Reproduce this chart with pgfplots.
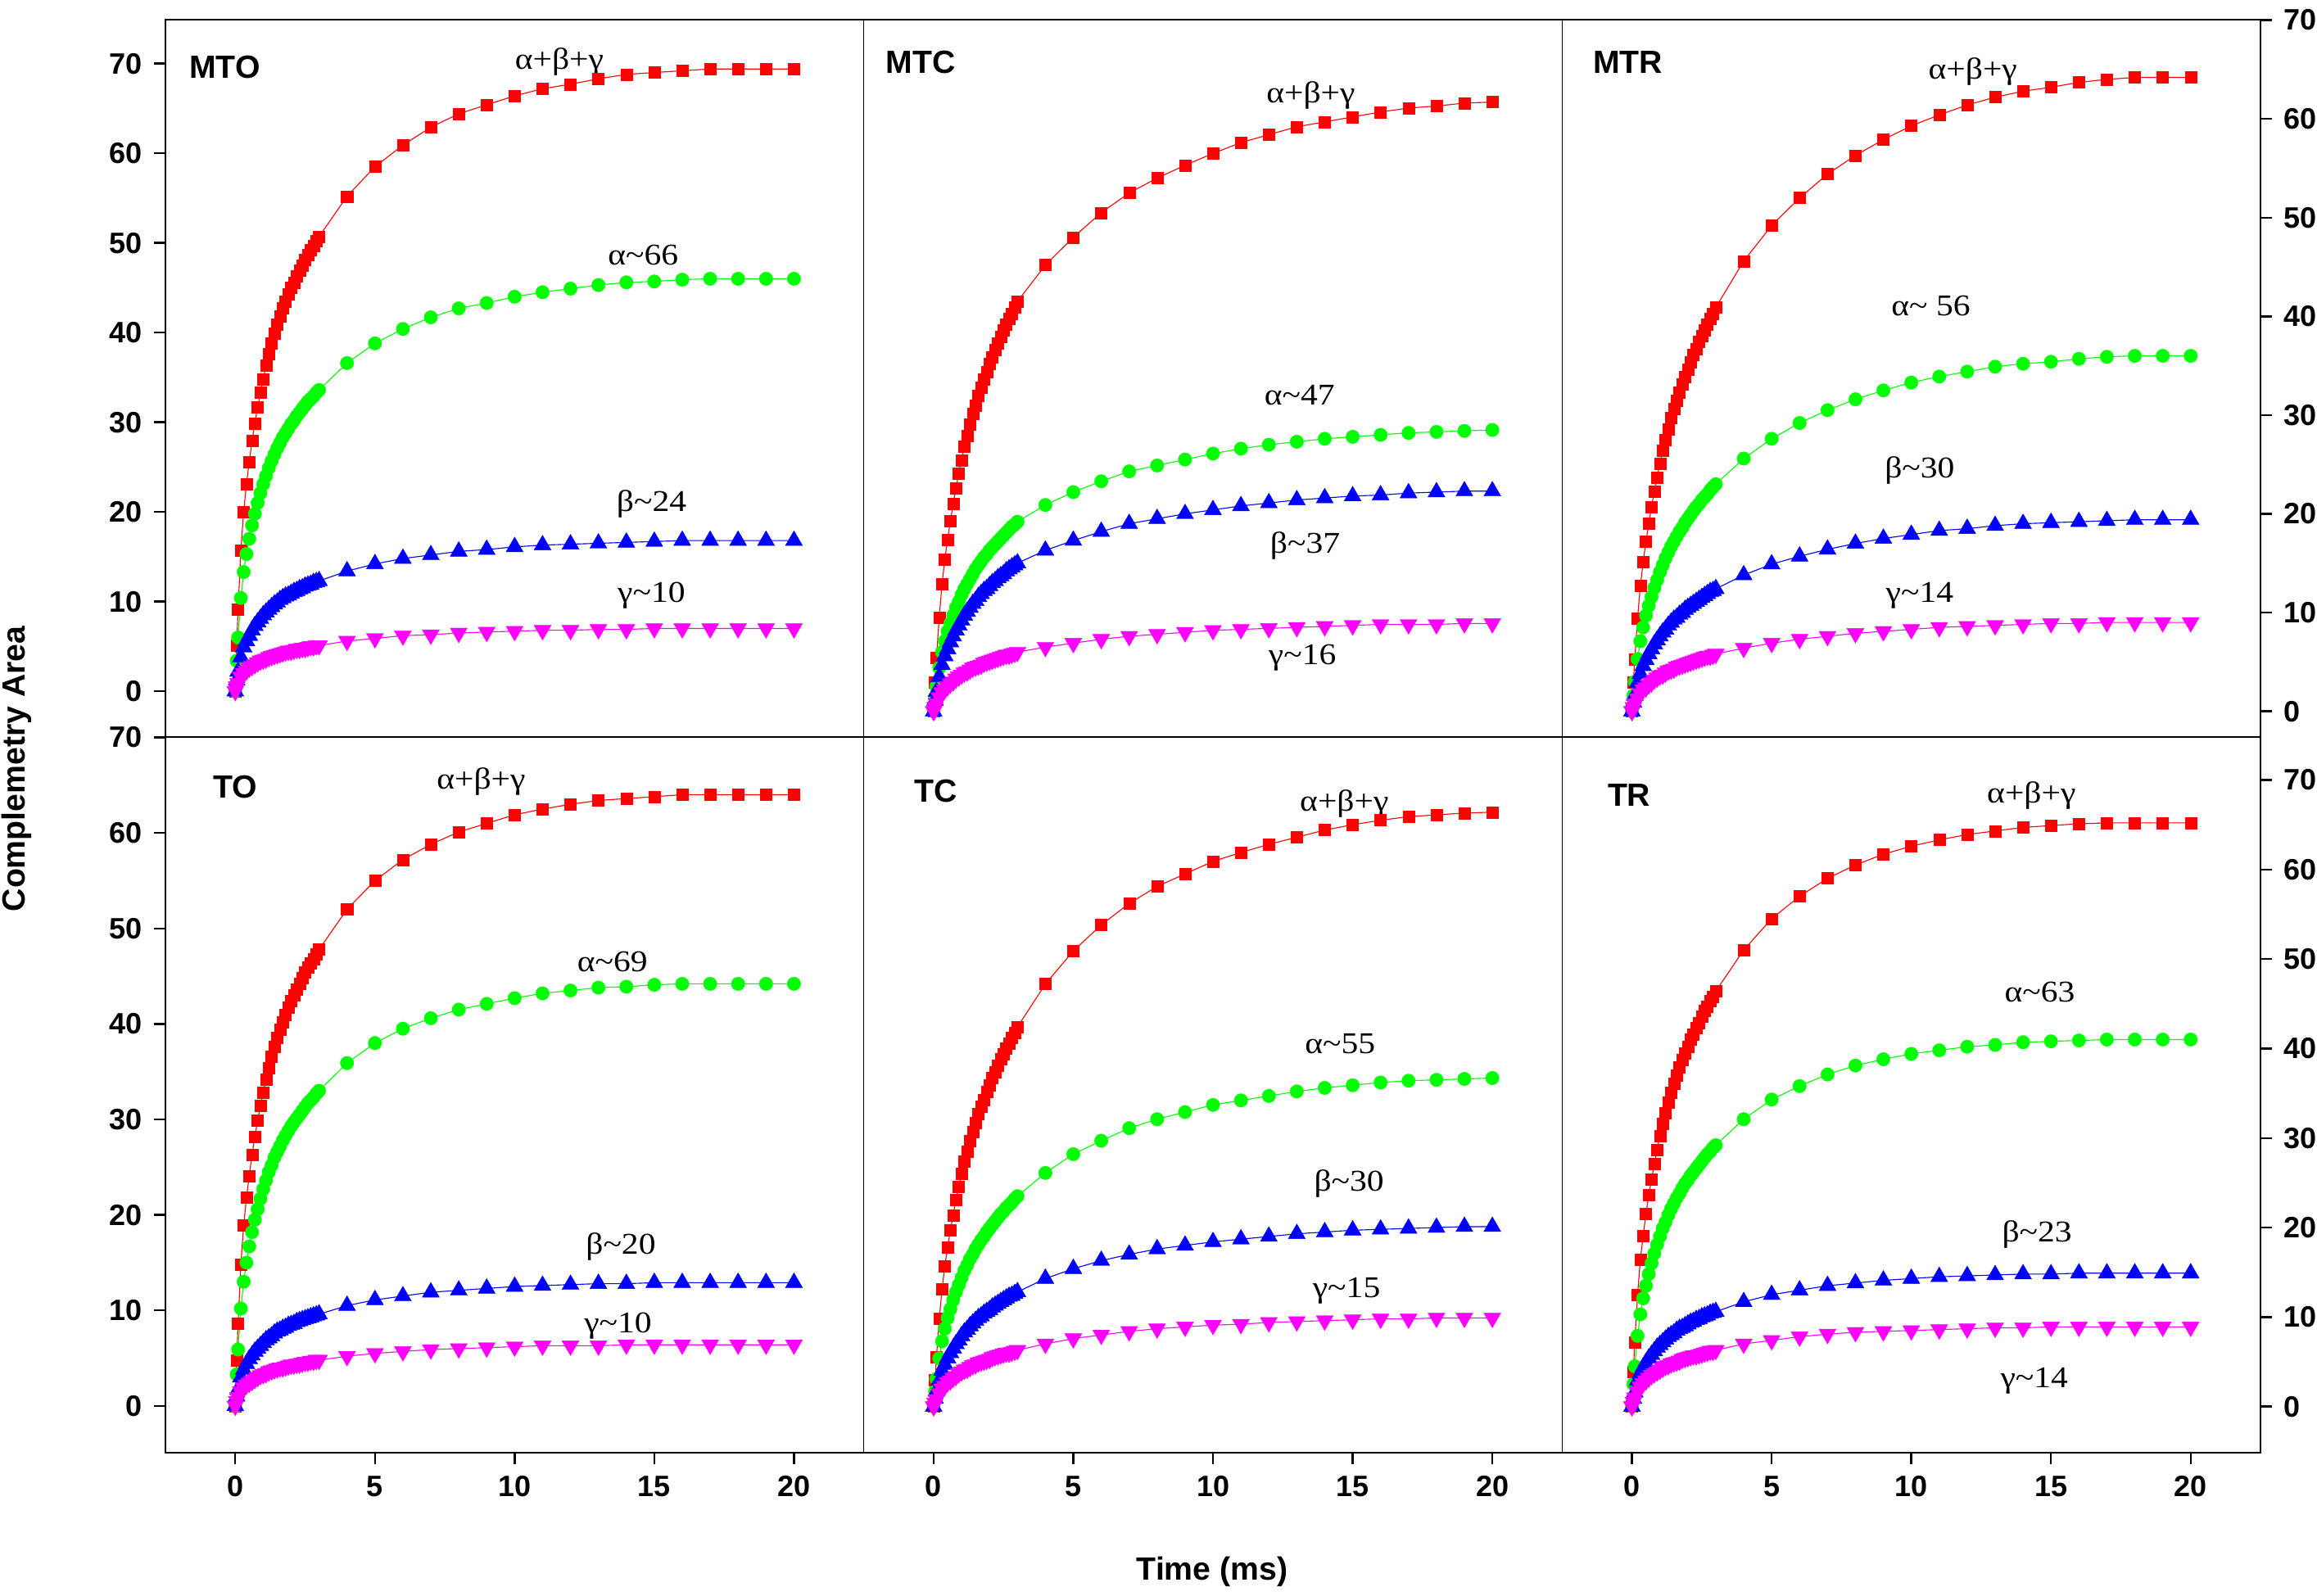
\documentclass[border=0pt]{standalone}
\usepackage{fontspec}
\setmainfont{Liberation Sans}
\newfontfamily\annfont{Liberation Serif}
\usepackage{pgfplots}
\usepackage{pgfplotstable}
\pgfplotsset{compat=1.18}
\definecolor{cR}{RGB}{255,0,0}
\definecolor{cG}{RGB}{0,255,0}
\definecolor{cB}{RGB}{0,0,255}
\definecolor{cM}{RGB}{255,0,255}

\pgfplotstableread{
t r g b m
0 0 0 0 0
0.05 5.1 3.4 1.2 0.5
0.1 9.1 6.0 2.2 0.9
0.2 15.7 10.4 3.8 1.6
0.3 20.0 13.3 4.9 2.0
0.4 23.1 15.3 5.6 2.3
0.5 25.6 17.0 6.2 2.6
0.6 27.9 18.5 6.8 2.8
0.7 29.9 19.8 7.3 3.0
0.8 31.7 21.0 7.7 3.2
0.9 33.3 22.1 8.1 3.4
1.0 34.8 23.1 8.5 3.5
1.1 36.3 24.0 8.8 3.6
1.2 37.6 24.9 9.1 3.8
1.3 38.8 25.7 9.4 3.9
1.4 39.9 26.4 9.7 4.0
1.5 40.9 27.1 9.9 4.1
1.6 41.8 27.7 10.2 4.2
1.7 42.7 28.3 10.4 4.3
1.8 43.5 28.8 10.6 4.4
1.9 44.3 29.3 10.7 4.5
2.0 45.0 29.8 10.9 4.5
2.1 45.6 30.2 11.1 4.6
2.2 46.3 30.7 11.2 4.7
2.3 46.9 31.1 11.4 4.7
2.4 47.5 31.5 11.5 4.8
2.5 48.1 31.9 11.7 4.8
2.6 48.7 32.3 11.8 4.9
2.7 49.2 32.6 11.9 5.0
2.8 49.7 32.9 12.1 5.0
2.9 50.2 33.3 12.2 5.1
3.0 50.7 33.6 12.3 5.1
4 55.2 36.6 13.4 5.6
5 58.5 38.8 14.2 5.9
6 60.9 40.4 14.8 6.2
7 62.9 41.7 15.2 6.3
8 64.4 42.7 15.6 6.5
9 65.4 43.3 15.8 6.6
10 66.4 44.0 16.1 6.7
11 67.2 44.5 16.3 6.8
12 67.7 44.9 16.4 6.8
13 68.3 45.3 16.5 6.9
14 68.8 45.6 16.6 6.9
15 69.0 45.7 16.7 7.0
16 69.2 45.9 16.8 7.0
17 69.4 46.0 16.8 7.0
18 69.4 46.0 16.8 7.0
19 69.4 46.0 16.8 7.0
20 69.4 46.0 16.8 7.0
}\MTO

\pgfplotstableread{
t r g b m
0 0 0 0 0
0.05 2.9 1.3 1.1 0.4
0.1 5.4 2.5 2.0 0.8
0.2 9.5 4.4 3.5 1.4
0.3 12.9 6.0 4.7 1.9
0.4 15.4 7.1 5.6 2.2
0.5 17.4 8.1 6.3 2.5
0.6 19.3 8.9 7.0 2.8
0.7 21.0 9.7 7.6 3.0
0.8 22.6 10.5 8.2 3.3
0.9 24.1 11.1 8.7 3.5
1.0 25.4 11.8 9.2 3.7
1.1 26.8 12.4 9.7 3.9
1.2 27.9 12.9 10.1 4.0
1.3 29.1 13.4 10.5 4.2
1.4 30.1 13.9 10.9 4.4
1.5 31.0 14.4 11.2 4.5
1.6 32.0 14.8 11.6 4.6
1.7 32.8 15.2 11.9 4.7
1.8 33.6 15.6 12.2 4.9
1.9 34.4 15.9 12.4 5.0
2.0 35.2 16.3 12.7 5.1
2.1 35.9 16.6 13.0 5.2
2.2 36.6 16.9 13.2 5.3
2.3 37.3 17.2 13.5 5.4
2.4 37.9 17.5 13.7 5.5
2.5 38.6 17.8 13.9 5.6
2.6 39.2 18.1 14.2 5.7
2.7 39.8 18.4 14.4 5.7
2.8 40.3 18.7 14.6 5.8
2.9 40.9 18.9 14.8 5.9
3.0 41.5 19.2 15.0 6.0
4 45.2 20.9 16.3 6.5
5 48.0 22.2 17.3 6.9
6 50.5 23.3 18.2 7.3
7 52.5 24.3 19.0 7.6
8 54.0 24.9 19.5 7.8
9 55.3 25.5 20.0 8.0
10 56.5 26.1 20.4 8.2
11 57.6 26.6 20.8 8.3
12 58.4 27.0 21.1 8.4
13 59.2 27.3 21.4 8.5
14 59.7 27.6 21.6 8.6
15 60.2 27.8 21.8 8.7
16 60.7 28.0 21.9 8.8
17 61.1 28.2 22.1 8.8
18 61.3 28.3 22.2 8.8
19 61.6 28.4 22.3 8.9
20 61.7 28.5 22.3 8.9
}\MTC

\pgfplotstableread{
t r g b m
0 0 0 0 0
0.05 2.9 1.6 0.9 0.4
0.1 5.3 3.0 1.6 0.8
0.2 9.4 5.3 2.9 1.3
0.3 12.7 7.1 3.8 1.8
0.4 15.1 8.5 4.6 2.2
0.5 17.2 9.7 5.2 2.4
0.6 19.0 10.7 5.8 2.7
0.7 20.7 11.6 6.3 2.9
0.8 22.3 12.5 6.8 3.2
0.9 23.7 13.3 7.2 3.4
1.0 25.1 14.1 7.6 3.6
1.1 26.4 14.8 8.0 3.7
1.2 27.5 15.5 8.3 3.9
1.3 28.6 16.1 8.7 4.1
1.4 29.7 16.7 9.0 4.2
1.5 30.6 17.2 9.3 4.3
1.6 31.5 17.7 9.5 4.5
1.7 32.3 18.2 9.8 4.6
1.8 33.1 18.6 10.0 4.7
1.9 33.9 19.1 10.3 4.8
2.0 34.6 19.5 10.5 4.9
2.1 35.4 19.9 10.7 5.0
2.2 36.1 20.3 10.9 5.1
2.3 36.7 20.7 11.1 5.2
2.4 37.4 21.0 11.3 5.3
2.5 38.0 21.4 11.5 5.4
2.6 38.6 21.7 11.7 5.5
2.7 39.2 22.0 11.9 5.6
2.8 39.8 22.4 12.1 5.6
2.9 40.3 22.7 12.2 5.7
3.0 40.9 23.0 12.4 5.8
4 45.6 25.6 13.8 6.4
5 49.2 27.6 14.9 6.9
6 52.0 29.2 15.7 7.3
7 54.4 30.5 16.4 7.6
8 56.3 31.6 17.0 7.9
9 57.9 32.5 17.5 8.1
10 59.3 33.3 17.9 8.3
11 60.4 33.9 18.3 8.5
12 61.4 34.4 18.5 8.6
13 62.2 34.9 18.8 8.7
14 62.8 35.2 19.0 8.8
15 63.2 35.4 19.1 8.9
16 63.7 35.7 19.2 8.9
17 64.0 35.9 19.3 9.0
18 64.2 36.0 19.4 9.0
19 64.2 36.0 19.4 9.0
20 64.2 36.0 19.4 9.0
}\MTR

\pgfplotstableread{
t r g b m
0 0 0 0 0
0.05 4.8 3.3 1.0 0.5
0.1 8.6 5.9 1.7 0.9
0.2 14.8 10.2 3.0 1.5
0.3 18.9 13.0 3.8 1.9
0.4 21.8 15.0 4.4 2.2
0.5 24.1 16.7 4.9 2.4
0.6 26.3 18.2 5.3 2.6
0.7 28.2 19.5 5.7 2.8
0.8 29.9 20.6 6.0 3.0
0.9 31.4 21.7 6.3 3.2
1.0 32.8 22.7 6.6 3.3
1.1 34.2 23.6 6.9 3.4
1.2 35.4 24.5 7.1 3.6
1.3 36.6 25.2 7.3 3.7
1.4 37.6 26.0 7.6 3.8
1.5 38.6 26.6 7.8 3.9
1.6 39.4 27.2 7.9 4.0
1.7 40.2 27.8 8.1 4.0
1.8 41.0 28.3 8.2 4.1
1.9 41.7 28.8 8.4 4.2
2.0 42.4 29.3 8.5 4.3
2.1 43.0 29.7 8.6 4.3
2.2 43.6 30.1 8.8 4.4
2.3 44.2 30.5 8.9 4.4
2.4 44.8 30.9 9.0 4.5
2.5 45.4 31.3 9.1 4.6
2.6 45.9 31.7 9.2 4.6
2.7 46.4 32.0 9.3 4.7
2.8 46.8 32.3 9.4 4.7
2.9 47.3 32.7 9.5 4.8
3.0 47.8 33.0 9.6 4.8
4 52.0 35.9 10.5 5.2
5 55.0 38.0 11.1 5.5
6 57.2 39.5 11.5 5.7
7 58.8 40.6 11.9 5.9
8 60.1 41.5 12.1 6.0
9 61.0 42.1 12.3 6.1
10 61.9 42.7 12.5 6.2
11 62.5 43.2 12.6 6.3
12 63.0 43.5 12.7 6.3
13 63.4 43.8 12.8 6.3
14 63.6 43.9 12.8 6.4
15 63.8 44.1 12.9 6.4
16 64.0 44.2 12.9 6.4
17 64.0 44.2 12.9 6.4
18 64.0 44.2 12.9 6.4
19 64.0 44.2 12.9 6.4
20 64.0 44.2 12.9 6.4
}\TO

\pgfplotstableread{
t r g b m
0 0 0 0 0
0.05 3.0 1.7 0.9 0.4
0.1 5.5 3.1 1.7 0.8
0.2 9.8 5.4 2.9 1.5
0.3 13.1 7.3 4.0 2.0
0.4 15.7 8.7 4.7 2.3
0.5 17.8 9.9 5.4 2.7
0.6 19.7 10.9 6.0 2.9
0.7 21.4 11.9 6.5 3.2
0.8 23.1 12.8 7.0 3.4
0.9 24.6 13.6 7.4 3.7
1.0 26.0 14.4 7.9 3.9
1.1 27.4 15.2 8.3 4.1
1.2 28.5 15.8 8.6 4.2
1.3 29.7 16.5 9.0 4.4
1.4 30.7 17.0 9.3 4.6
1.5 31.7 17.6 9.6 4.7
1.6 32.7 18.1 9.9 4.9
1.7 33.5 18.6 10.1 5.0
1.8 34.3 19.0 10.4 5.1
1.9 35.2 19.5 10.6 5.2
2.0 35.9 19.9 10.8 5.3
2.1 36.7 20.3 11.1 5.5
2.2 37.4 20.7 11.3 5.6
2.3 38.1 21.1 11.5 5.7
2.4 38.8 21.5 11.7 5.8
2.5 39.4 21.8 11.9 5.9
2.6 40.0 22.2 12.1 6.0
2.7 40.6 22.5 12.3 6.0
2.8 41.2 22.8 12.4 6.1
2.9 41.8 23.2 12.6 6.2
3.0 42.4 23.5 12.8 6.3
4 47.2 26.1 14.3 7.0
5 50.9 28.2 15.4 7.6
6 53.8 29.7 16.3 8.0
7 56.2 31.1 17.0 8.4
8 58.1 32.1 17.6 8.7
9 59.5 32.9 18.0 8.9
10 60.9 33.7 18.4 9.1
11 61.9 34.2 18.7 9.2
12 62.8 34.7 19.0 9.4
13 63.6 35.2 19.3 9.5
14 64.4 35.6 19.5 9.6
15 65.0 35.9 19.7 9.7
16 65.5 36.2 19.8 9.8
17 65.9 36.4 19.9 9.8
18 66.1 36.5 20.0 9.9
19 66.3 36.6 20.1 9.9
20 66.4 36.7 20.1 9.9
}\TC

\pgfplotstableread{
t r g b m
0 0 0 0 0
0.05 3.9 2.5 0.9 0.5
0.1 7.2 4.5 1.6 1.0
0.2 12.5 7.9 2.9 1.7
0.3 16.4 10.3 3.7 2.2
0.4 19.1 12.1 4.4 2.6
0.5 21.5 13.5 4.9 2.9
0.6 23.6 14.8 5.4 3.2
0.7 25.4 16.0 5.8 3.5
0.8 27.1 17.1 6.2 3.7
0.9 28.7 18.1 6.6 3.9
1.0 30.2 19.0 6.9 4.1
1.1 31.6 19.9 7.2 4.3
1.2 32.8 20.6 7.5 4.5
1.3 34.0 21.4 7.8 4.6
1.4 35.1 22.1 8.0 4.8
1.5 36.1 22.7 8.2 4.9
1.6 37.0 23.3 8.5 5.0
1.7 37.9 23.8 8.7 5.1
1.8 38.7 24.4 8.8 5.3
1.9 39.5 24.9 9.0 5.4
2.0 40.2 25.3 9.2 5.5
2.1 41.0 25.8 9.4 5.6
2.2 41.6 26.2 9.5 5.7
2.3 42.3 26.6 9.7 5.7
2.4 42.9 27.0 9.8 5.8
2.5 43.6 27.4 10.0 5.9
2.6 44.2 27.8 10.1 6.0
2.7 44.7 28.2 10.2 6.1
2.8 45.3 28.5 10.4 6.2
2.9 45.8 28.9 10.5 6.2
3.0 46.4 29.2 10.6 6.3
4 51.0 32.1 11.7 7.0
5 54.5 34.3 12.5 7.4
6 57.0 35.8 13.0 7.8
7 59.0 37.1 13.5 8.1
8 60.5 38.1 13.8 8.3
9 61.7 38.8 14.1 8.4
10 62.6 39.4 14.3 8.5
11 63.3 39.8 14.5 8.6
12 63.9 40.2 14.6 8.7
13 64.3 40.4 14.7 8.8
14 64.7 40.7 14.8 8.8
15 64.9 40.8 14.8 8.9
16 65.1 40.9 14.9 8.9
17 65.2 41.0 14.9 8.9
18 65.2 41.0 14.9 8.9
19 65.2 41.0 14.9 8.9
20 65.2 41.0 14.9 8.9
}\TR

\pgfplotsset{
  panel/.style={scale only axis, width=213.17pt, xmin=-2.5, xmax=22.5,
    axis line style={line width=0.3pt}, tick align=outside,
    major tick length=3.6pt, tick style={black, line width=0.6pt},
    /pgf/number format/assume math mode=true,
    ticklabel style={font=\bfseries\fontsize{9}{10}\selectfont},
    clip=false},
  toprow/.style={height=219pt, xtick=\empty},
  botrow/.style={height=218.5pt, xtick={0,5,10,15,20}, xtick pos=left},
  c1/.style={ytick={0,10,...,70}, ytick pos=left},
  c2/.style={ytick=\empty},
  c3/.style={ytick={0,10,...,70}, ytick pos=right, yticklabel pos=right},
  sR/.style={color=cR, line width=0.28pt, mark=square*, mark size=1.75pt, mark options={fill=cR, draw=cR, line width=0.1pt}},
  sG/.style={color=cG, line width=0.28pt, mark=*, mark size=2.05pt, mark options={fill=cG, draw=cG, line width=0.1pt}},
  sB/.style={color=cB, line width=0.28pt, mark=triangle*, mark size=3.0pt, mark options={fill=cB, draw=cB, line width=0.1pt}},
  sM/.style={color=cM, line width=0.28pt, mark=triangle*, mark size=3.0pt, mark options={fill=cM, draw=cM, line width=0.1pt, rotate=180}},
}
\tikzset{
  ann/.style={font=\annfont\fontsize{9.2}{11}\selectfont, inner sep=0pt},
  plab/.style={font=\bfseries\fontsize{9.8}{11}\selectfont, anchor=west, inner sep=0pt},
}
\newcommand{\wide}[1]{\scalebox{1.13}[1]{#1}}

\newcommand{\fourplots}[1]{%
  \addplot[sR] table[x=t,y=r]{#1};
  \addplot[sG] table[x=t,y=g]{#1};
  \addplot[sB] table[x=t,y=b]{#1};
  \addplot[sM] table[x=t,y=m]{#1};
}

\begin{document}
\begin{tikzpicture}
\useasboundingbox (0,0) rectangle (707.25pt,487.25pt);

% MTO
\begin{axis}[panel, toprow, c1, at={(50.5pt,262.25pt)}, anchor=south west, ymin=-5.1, ymax=74.9]
\fourplots{\MTO}
\node[plab] at (axis cs:-1.67,69.6) {MTO};
\node[ann] at (axis cs:11.6,70.2) {\wide{α+β+γ}};
\node[ann] at (axis cs:14.6,48.6) {\wide{α\textasciitilde66}};
\node[ann] at (axis cs:14.9,20.9) {\wide{β\textasciitilde24}};
\node[ann] at (axis cs:14.9,10.7) {\wide{γ\textasciitilde10}};
\end{axis}

% MTC
\begin{axis}[panel, toprow, c2, at={(263.67pt,262.25pt)}, anchor=south west, ymin=-2.6, ymax=70.05]
\fourplots{\MTC}
\node[plab] at (axis cs:-1.73,65.7) {MTC};
\node[ann] at (axis cs:13.5,62.4) {\wide{α+β+γ}};
\node[ann] at (axis cs:13.1,32.0) {\wide{α\textasciitilde47}};
\node[ann] at (axis cs:13.3,16.8) {\wide{β\textasciitilde37}};
\node[ann] at (axis cs:13.2,5.4) {\wide{γ\textasciitilde16}};
\end{axis}

% MTR
\begin{axis}[panel, toprow, c3, at={(476.83pt,262.25pt)}, anchor=south west, ymin=-2.6, ymax=70.05]
\fourplots{\MTR}
\node[plab] at (axis cs:-1.41,65.7) {MTR};
\node[ann] at (axis cs:12.2,64.8) {\wide{α+β+γ}};
\node[ann] at (axis cs:10.7,41.1) {\wide{α\textasciitilde\ 56}};
\node[ann] at (axis cs:10.3,24.4) {\wide{β\textasciitilde30}};
\node[ann] at (axis cs:10.3,11.7) {\wide{γ\textasciitilde14}};
\end{axis}

% TO
\begin{axis}[panel, botrow, c1, at={(50.5pt,43.75pt)}, anchor=south west, ymin=-4.9, ymax=70.05]
\fourplots{\TO}
\node[plab] at (axis cs:-0.82,64.8) {TO};
\node[ann] at (axis cs:8.8,65.4) {\wide{α+β+γ}};
\node[ann] at (axis cs:13.5,46.5) {\wide{α\textasciitilde69}};
\node[ann] at (axis cs:13.8,16.7) {\wide{β\textasciitilde20}};
\node[ann] at (axis cs:13.7,8.4) {\wide{γ\textasciitilde10}};
\end{axis}

% TC
\begin{axis}[panel, botrow, c2, at={(263.67pt,43.75pt)}, anchor=south west, ymin=-5.15, ymax=74.8]
\fourplots{\TC}
\node[plab] at (axis cs:-0.72,68.8) {TC};
\node[ann] at (axis cs:14.7,67.3) {\wide{α+β+γ}};
\node[ann] at (axis cs:14.55,40.5) {\wide{α\textasciitilde55}};
\node[ann] at (axis cs:14.87,24.9) {\wide{β\textasciitilde30}};
\node[ann] at (axis cs:14.78,12.9) {\wide{γ\textasciitilde15}};
\end{axis}

% TR
\begin{axis}[panel, botrow, c3, at={(476.83pt,43.75pt)}, anchor=south west, ymin=-5.15, ymax=74.8]
\fourplots{\TR}
\node[plab] at (axis cs:-0.89,68.3) {TR};
\node[ann] at (axis cs:14.3,68.3) {\wide{α+β+γ}};
\node[ann] at (axis cs:14.6,46.3) {\wide{α\textasciitilde63}};
\node[ann] at (axis cs:14.5,19.2) {\wide{β\textasciitilde23}};
\node[ann] at (axis cs:14.4,2.9) {\wide{γ\textasciitilde14}};
\end{axis}

% outer frame
\draw[line width=0.7pt] (50.5pt,481.25pt) -- (50.5pt,43.75pt) -- (690pt,43.75pt);
\draw[line width=0.45pt] (50.5pt,481.25pt) -- (690pt,481.25pt) -- (690pt,43.75pt);

% axis titles
\node[rotate=90, font=\bfseries\fontsize{9.8}{11}\selectfont] at (5pt,252.5pt) {Complemetry Area};
\node[font=\bfseries\fontsize{9.8}{11}\selectfont] at (370pt,7.5pt) {Time (ms)};
\end{tikzpicture}
\end{document}
